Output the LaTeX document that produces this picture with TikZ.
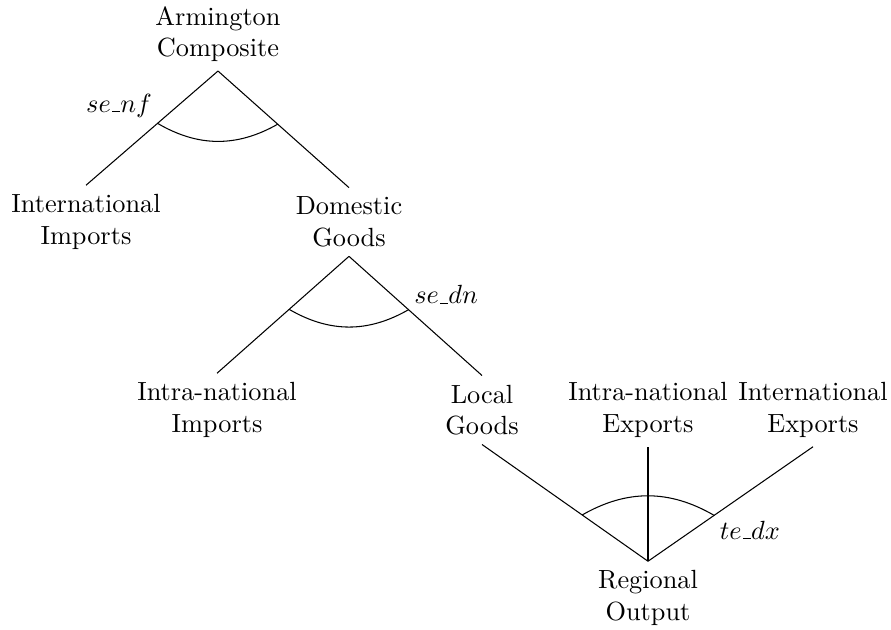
\documentclass[tikz,border=0pt]{standalone}
\usetikzlibrary{calc}
\newcommand{\cmusc}{\mbox{\kern.06em\vbox{\hrule width .3em}}}
\begin{document}
\begin{tikzpicture}[x=0.38023pt,y=-0.38023pt,
  lbl/.style={align=center},
  conn/.style={line width=0.4pt},
  nestarc/.style={line width=0.4pt},
  elas/.style={inner sep=2pt}]
\useasboundingbox (0,0) rectangle (891,630);
% nodes
\node[lbl] (AC)  at (218,34)  {Armington\\Composite};
\node[lbl] (II)  at (86,222)  {International\\Imports};
\node[lbl] (DG)  at (349,222) {Domestic\\Goods};
\node[lbl] (INI) at (217,410) {Intra-national\\Imports};
\node[lbl] (LG)  at (482,410) {Local\\Goods};
\node[lbl] (IE)  at (648,410) {Intra-national\\Exports};
\node[lbl] (XE)  at (813,410) {International\\Exports};
\node[lbl] (RO)  at (648,598) {Regional\\Output};
% connectors
\draw[conn] (AC.south) -- (II.north);
\draw[conn] (AC.south) -- (DG.north);
\draw[conn] (DG.south) -- (INI.north);
\draw[conn] (DG.south) -- (LG.north);
\draw[conn] (RO.north) -- (LG.south);
\draw[conn] (RO.north) -- (IE.south);
\draw[conn] (RO.north) -- (XE.south);
% arc points
\coordinate (a1) at ($(AC.south)!30.4pt!(II.north)$);
\coordinate (a2) at ($(AC.south)!30.4pt!(DG.north)$);
\coordinate (b1) at ($(DG.south)!30.4pt!(INI.north)$);
\coordinate (b2) at ($(DG.south)!30.4pt!(LG.north)$);
\coordinate (c1) at ($(RO.north)!30.6pt!(LG.south)$);
\coordinate (c2) at ($(RO.north)!30.6pt!(XE.south)$);
\draw[nestarc] (a1) to[bend right] (a2);
\draw[nestarc] (b1) to[bend right] (b2);
\draw[nestarc] (c1) to[bend left] (c2);
% elasticity labels
\node[elas, anchor=south east] (Lnf) at (a1) {$se\cmusc nf$};
\node[elas, anchor=south west] (Ldn) at (b2) {$se\cmusc dn$};
\node[elas, anchor=north west] (Ldx) at (c2) {$te\cmusc dx$};
\end{tikzpicture}
\end{document}
